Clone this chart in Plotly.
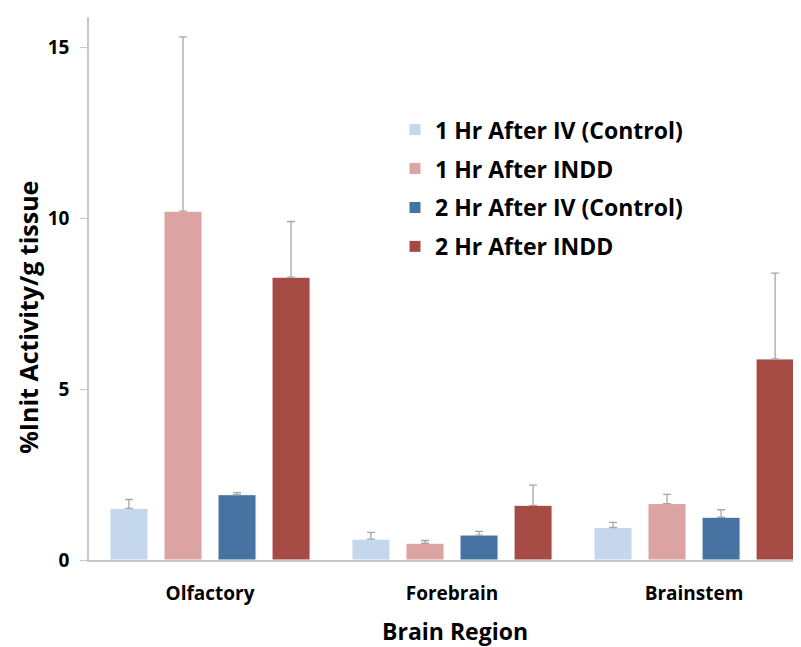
import plotly.graph_objects as go

categories = ["Olfactory", "Forebrain", "Brainstem"]
series_names = ["1 Hr After IV (Control)", "1 Hr After INDD", "2 Hr After IV (Control)", "2 Hr After INDD"]
values_1hr_iv = [1.51, 0.61, 0.95]
values_1hr_indd = [10.2, 0.49, 1.65]
values_2hr_iv = [1.91, 0.73, 1.25]
values_2hr_indd = [8.27, 1.60, 5.88]
err_1hr_iv = [0.26, 0.20, 0.15]
err_1hr_indd = [5.1, 0.08, 0.27]
err_2hr_iv = [0.06, 0.11, 0.22]
err_2hr_indd = [1.63, 0.59, 2.51]
colors = ["#C4D7ED", "#DBA4A3", "#4673A2", "#A64A44"]
y_ticks = [0, 5, 10, 15]

all_vals = [values_1hr_iv, values_1hr_indd, values_2hr_iv, values_2hr_indd]
all_errs = [err_1hr_iv, err_1hr_indd, err_2hr_iv, err_2hr_indd]

font_family = "Open Sans"
fig = go.Figure()
for i, (name, vals, errs, col) in enumerate(zip(series_names, all_vals, all_errs, colors)):
    fig.add_trace(go.Bar(
        x=categories, y=vals, name=name,
        legendgroup=f"g{i}",
        marker=dict(color=col, line=dict(color="white", width=1)),
        error_y=dict(type="data", symmetric=False, array=errs,
                     arrayminus=[0] * len(errs), color="#A6A6A6",
                     thickness=1.3, width=4),
    ))

fig.update_layout(
    width=801, height=647,
    barmode="group", bargap=0.107, bargroupgap=0.296,
    plot_bgcolor="white", paper_bgcolor="white",
    margin=dict(l=81, r=0, t=9, b=95, autoexpand=False),
    font=dict(family=font_family, color="black"),
    legend=dict(x=0.425, y=0.832, xanchor="left", yanchor="top",
                font=dict(size=23, family=font_family, weight="bold"),
                tracegroupgap=6, traceorder="grouped",
                bgcolor="rgba(0,0,0,0)", itemwidth=30),
    showlegend=True,
    annotations=[
        dict(text="Brain Region", xref="x", x=1, xshift=3, yref="paper", y=0,
             yanchor="middle", yshift=-71, showarrow=False,
             font=dict(size=23, family=font_family, weight="bold")),
        dict(text="%Init Activity/g tissue", xref="paper", x=0, xshift=-61,
             yref="paper", y=0.446, textangle=-90, showarrow=False,
             xanchor="center", yanchor="middle",
             font=dict(size=25, family=font_family, weight="bold")),
    ],
)
fig.update_xaxes(
    range=[-0.5, 2.475],
    showline=True, linecolor="#C8C8C8", linewidth=1.5, ticks="",
    ticklabelstandoff=15,
    tickfont=dict(size=19, family=font_family, weight="bold"),
    showgrid=False,
)
fig.update_yaxes(
    range=[0, 15.88], tickvals=y_ticks, showline=True, linecolor="#C8C8C8",
    linewidth=1.5, ticks="outside", ticklen=7, tickcolor="#C8C8C8",
    ticklabelstandoff=7,
    tickfont=dict(size=19, family=font_family, weight="bold"),
    showgrid=False, zeroline=False,
)
fig.write_html("out.html")
